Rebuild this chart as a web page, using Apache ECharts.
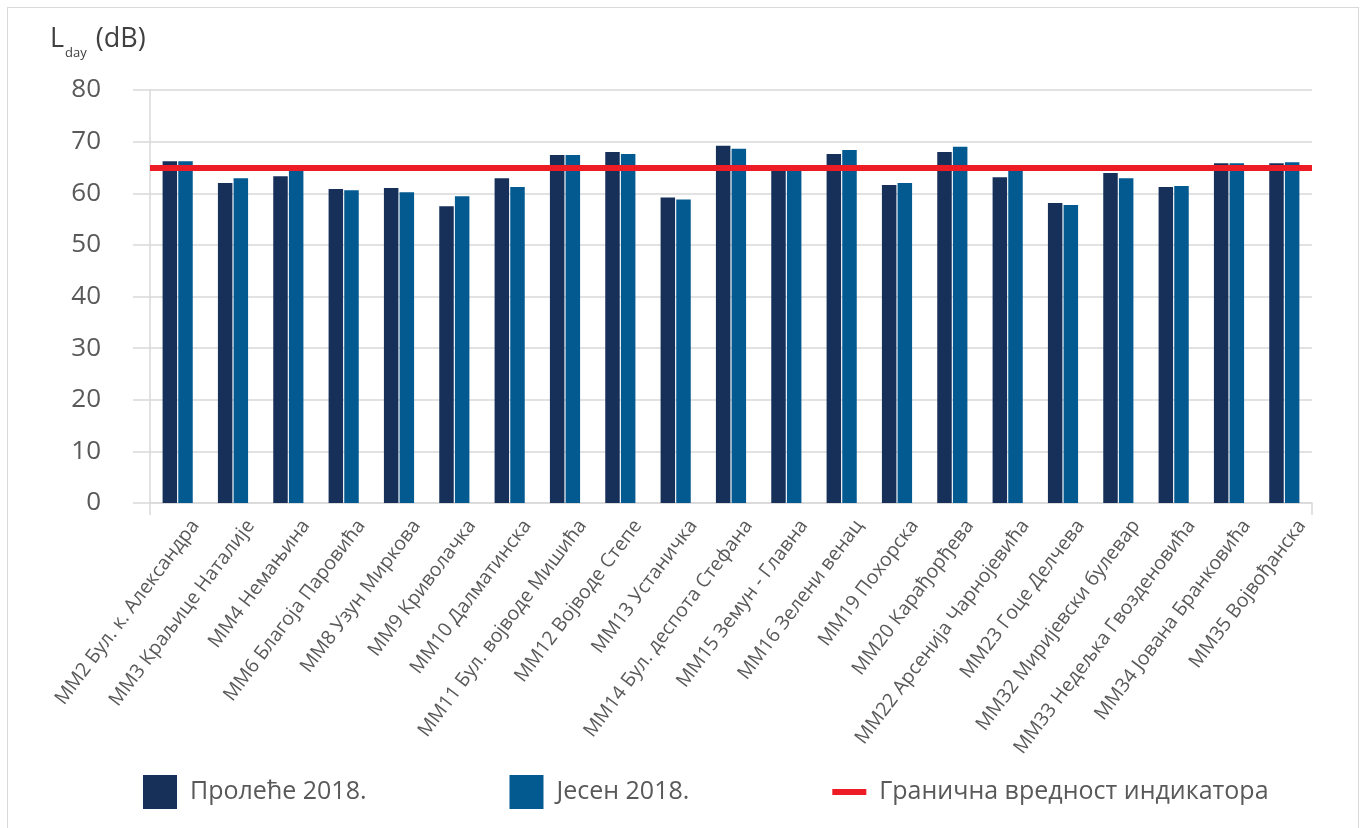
<!DOCTYPE html>
<html>
<head>
<meta charset="utf-8">
<script src="https://cdn.jsdelivr.net/npm/echarts@6/dist/echarts.min.js"></script>
<style>
  html, body { margin: 0; padding: 0; background: #fff; }
  #chart { width: 1365px; height: 828px; }
  #frame { position: absolute; left: 7px; top: 7px; width: 1352px; height: 830px;
           border: 1.5px solid #D9D9D9; box-sizing: border-box; pointer-events: none; }
</style>
</head>
<body>
<div id="chart"></div>
<div id="frame"></div>
<script>
// Measurement points
const categories = [
  'ММ2 Бул. к. Александра', 'ММ3 Краљице Наталије', 'ММ4 Немањина', 'ММ6 Благоја Паровића',
  'ММ8 Узун Миркова', 'ММ9 Криволачка', 'ММ10 Далматинска', 'ММ11 Бул. војводе Мишића',
  'ММ12 Војводе Степе', 'ММ13 Устаничка', 'ММ14 Бул. деспота Стефана', 'ММ15 Земун - Главна',
  'ММ16 Зелени венац', 'ММ19 Похорска', 'ММ20 Карађорђева', 'ММ22 Арсенија Чарнојевића',
  'ММ23 Гоце Делчева', 'ММ32 Миријевски булевар', 'ММ33 Недељка Гвоздeновића',
  'ММ34 Јована Бранковића', 'ММ35 Војвођанска'
];

// L_day values (dB)
const spring2018 = [66.2, 62.0, 63.3, 60.8, 61.0, 57.5, 62.9, 67.4, 68.0, 59.2, 69.2,
                    64.5, 67.6, 61.6, 68.0, 63.1, 58.1, 63.9, 61.2, 65.8, 65.8];
const autumn2018 = [66.2, 62.9, 64.5, 60.6, 60.2, 59.4, 61.2, 67.4, 67.6, 58.8, 68.6,
                    64.9, 68.4, 62.0, 69.0, 64.9, 57.7, 62.9, 61.4, 65.8, 66.0];

// Limit value of the indicator (dB)
const limitValue = 65;

const seriesNames = ['Пролеће 2018.', 'Јесен 2018.', 'Гранична вредност индикатора'];
const yTicks = { min: 0, max: 80, interval: 10 };

const textGray = '#595959';
const gridGray = '#D9D9D9';
const limitRed = '#ED1C24';
const font = 'Open Sans';

const chart = echarts.init(document.getElementById('chart'), null, { renderer: 'canvas' });

chart.setOption({
  animation: false,
  textStyle: { fontFamily: font },
  title: {
    left: 50, top: 22, padding: 0,
    text: '{a|L}{s|day}{a| (dB)}',
    textStyle: {
      fontWeight: 'normal',
      rich: {
        a: { fontFamily: font, fontSize: 27, fontWeight: 'normal', color: '#404040', verticalAlign: 'bottom', lineHeight: 38, padding: [0, 0, 7, 0] },
        s: { fontFamily: font, fontSize: 13, fontWeight: 'normal', color: '#404040', verticalAlign: 'bottom', lineHeight: 38, padding: [0, 2, 0, 1] }
      }
    }
  },
  legend: {
    left: 143, top: 775, padding: 0,
    itemWidth: 34, itemHeight: 34,
    itemGap: 143,
    textStyle: { fontFamily: font, fontSize: 25, color: textGray, padding: [0, 0, 0, 8] },
    data: [
      { name: seriesNames[0], icon: 'rect' },
      { name: seriesNames[1], icon: 'rect' },
      { name: seriesNames[2], icon: 'path://M0,0H34V6H0Z' }
    ]
  },
  grid: { left: 150, right: 53, top: 90, bottom: 325, containLabel: false },
  xAxis: {
    type: 'category',
    data: categories,
    axisLine: { show: true, lineStyle: { color: gridGray, width: 1.5 } },
    axisTick: {
      show: true, length: 12, interval: (i) => i === 0,
      lineStyle: { color: gridGray, width: 1.5 }
    },
    axisLabel: {
      interval: 0, rotate: 53, margin: 6,
      verticalAlign: 'top', lineHeight: 44,
      fontFamily: font, fontSize: 19.5, color: textGray
    }
  },
  yAxis: {
    type: 'value',
    min: yTicks.min, max: yTicks.max, interval: yTicks.interval,
    axisLine: { show: true, lineStyle: { color: gridGray, width: 1.5 } },
    axisTick: { show: true, length: 17, lineStyle: { color: gridGray, width: 1.5 } },
    splitLine: { show: true, lineStyle: { color: gridGray, width: 1.5 } },
    axisLabel: { margin: 49, fontFamily: font, fontSize: 26, color: textGray }
  },
  series: [
    {
      name: seriesNames[0], type: 'bar', data: spring2018,
      barWidth: 14.5, barGap: '8%',
      itemStyle: { color: '#17305A' }
    },
    {
      name: seriesNames[1], type: 'bar', data: autumn2018,
      barWidth: 14.5, barGap: '8%',
      itemStyle: { color: '#025A91' }
    },
    {
      name: seriesNames[2], type: 'line', data: [],
      symbol: 'none',
      itemStyle: { color: limitRed },
      lineStyle: { color: limitRed, width: 6 },
      markLine: {
        silent: true, symbol: 'none',
        label: { show: false },
        lineStyle: { color: limitRed, width: 6, type: 'solid' },
        data: [{ yAxis: limitValue }]
      }
    }
  ]
});
</script>
</body>
</html>
